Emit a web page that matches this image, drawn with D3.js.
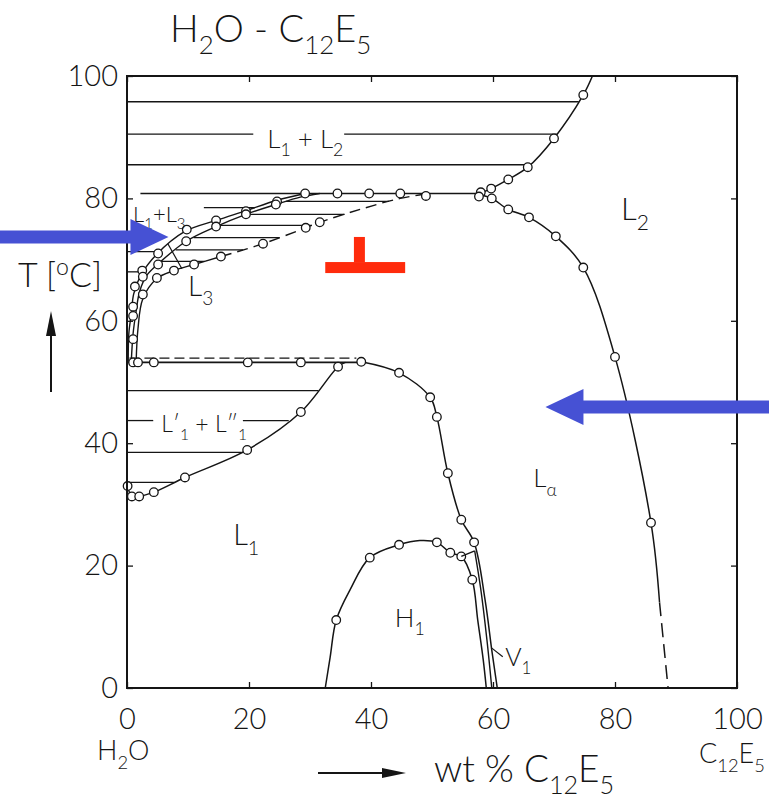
<!DOCTYPE html>
<html><head><meta charset="utf-8">
<script src="https://cdn.jsdelivr.net/npm/d3@7"></script>
<style>
body{margin:0;background:#fff}
svg{display:block}
text{font-family:Lato,"Open Sans","Liberation Sans",sans-serif;font-weight:300;fill:#151515}
</style>
</head><body>
<svg id="chart" width="769" height="798"></svg>
<script>
// ---- axes ----
const xTicks = [0, 20, 40, 60, 80, 100];
const yTicks = [0, 20, 40, 60, 80, 100];

// ---- phase boundaries, [wt% C12E5, T in °C] ----
// L2 boundary above the three-phase line
const l2Upper = [[57.8,80.8],[59.7,81.6],[62.5,83.1],[65.7,85.1],[70.0,89.8],[74.8,96.9],[76.3,100]];
const l2UpperPts = [[59.7,81.6],[62.5,83.1],[65.7,85.1],[70.0,89.8],[74.8,96.9]];
// L2 / La boundary
const l2Lower = [[57.8,80.6],[59.8,80.0],[62.5,78.2],[65.9,76.9],[70.3,73.8],[74.8,68.7],[80.0,54.1],[85.9,27.0],[87.3,14.0]];
const l2LowerDash = [[87.3,14.0],[88.0,7.0],[88.7,0]];
const l2LowerPts = [[59.8,80.0],[62.5,78.2],[65.9,76.9],[70.3,73.8],[74.8,68.7],[80.0,54.1],[85.9,27.0]];
const junctionPts = [[58.0,81.0],[57.7,80.3]];

// three-phase line and its points
const threePhaseT = 80.8;
const threePhaseX = [2.2, 57.8];
const threePhasePts = [34.5, 39.7, 44.8];

// L1+L2 tie lines
const tieL1L2 = [95.8, 90.5, 85.5];
const tieL1L2Break = {T: 90.5, x0: 20.7, x1: 35.6};

// L3 band: outer (U), inner (M) and lower (D) boundaries
const bandU = [[0.2,53.3],[0.3,57.9],[0.7,61.1],[1.1,64.4],[2.3,67.5],[4.8,70.8],[9.5,74.6],[14.6,76.4],[19.5,78.0],[24.6,79.7],[29.2,80.8]];
const bandUPts = [[1.0,57.0],[1.0,62.3],[1.3,65.6],[2.5,68.2],[5.1,71.0],[9.8,74.9],[14.6,76.4],[19.5,77.9],[24.6,79.5],[29.2,80.8]];
const bandM = [[0.7,53.3],[1.0,57.9],[1.5,61.6],[2.1,64.9],[3.3,67.5],[5.1,69.3],[9.7,73.0],[14.6,75.4],[19.5,77.4],[24.4,79.0],[28.4,80.2],[31.6,80.8]];
const bandMPts = [[1.0,60.8],[2.6,67.2],[5.1,69.2],[9.7,73.0],[14.6,75.4],[19.5,77.4],[24.4,79.0]];
const bandD = [[1.5,53.3],[1.8,58.7],[2.6,63.6],[4.9,66.9],[7.7,68.2],[11.0,69.2],[15.4,70.5]];
const bandDDash = [[15.4,70.5],[22.3,72.6],[29.3,75.2],[31.6,76.1],[38.2,78.2],[44.8,80.0],[49.7,80.8]];
const bandDPts = [[2.6,64.3],[4.9,67.0],[7.7,68.2],[11.0,69.2],[15.4,70.5],[22.3,72.6],[29.3,75.2],[31.6,76.1],[49.0,80.4]];
// tie lines between M and D, and from the water axis to U
const tieBand = [79.5, 77.4, 75.6, 73.6, 71.6, 69.7];
const tieL1L3 = [71.3, 68.0];
const tieL1L3Label = {T: 78.5, x0: 12.6};

// L1' + L1'' miscibility gap
const gapLower = [[0.1,33.0],[0.8,31.3],[2.0,31.3],[4.4,32.0],[9.5,34.4],[19.7,38.9],[28.5,45.1],[34.6,52.5],[35.8,53.2]];
const gapLowerPts = [[0.1,33.0],[0.8,31.3],[2.0,31.3],[4.4,32.0],[9.5,34.4],[19.7,38.9],[28.5,45.1],[34.6,52.5]];
const gapTopT = 53.2;
const gapTopX = [0, 38.4];
const gapTopPts = [1.0, 1.8, 4.4, 19.8, 28.5];
const gapDashT = 53.9;
const gapDashX = [0.4, 37.6];
const tieGap = [48.6, 43.7, 38.5, 33.6];
const tieGapBreak = {T: 43.7, x0: 4.3, x1: 19.0};

// La boundary toward L1
const laBound = [[38.4,53.3],[44.6,51.5],[49.7,47.5],[50.8,44.3],[52.6,35.1],[54.8,27.5],[56.9,23.8],[58.7,14.4],[59.8,6.2],[60.7,0]];
const laBoundPts = [[38.4,53.3],[44.6,51.5],[49.7,47.5],[50.8,44.3],[52.6,35.1],[54.8,27.5],[56.9,23.8]];

// H1 dome and V1 strip
const h1 = [[32.5,0],[33.3,5.0],[34.3,11.1],[36.6,16.1],[39.8,21.3],[44.6,23.4],[48.0,24.1],[50.8,23.8],[53.0,22.1],[54.8,21.5],[56.6,17.7],[57.5,11.1],[58.4,4.6],[58.9,0]];
const h1Pts = [[34.3,11.1],[39.8,21.3],[44.6,23.4],[50.8,23.8],[53.0,22.1],[54.8,21.5],[56.6,17.7]];
const v1Link = [[54.8,21.5],[57.0,22.4]];
const v1Line = [[57.0,22.4],[58.0,16.1],[59.0,7.9],[59.8,0]];

// ---- labels: text, x (wt%), T (°C), font size ----
const regionLabels = [
  {t:"L_1 + L_2", x:23.0, T:88.3, s:26},
  {t:"L_1+L_3", x:1.0, T:76.2, s:22},
  {t:"L_3", x:10.0, T:64.1, s:28},
  {t:"L_2", x:81.0, T:76.4, s:31},
  {t:"L_α", x:66.6, T:32.8, s:26},
  {t:"L_1", x:17.4, T:23.3, s:29},
  {t:"H_1", x:43.9, T:10.0, s:26},
  {t:"V_1", x:62.0, T:3.6, s:25},
  {t:"L′_1 + L″_1", x:5.6, T:41.8, s:23}
];
const pointers = [
  [[6.7,72.6],[9.0,68.5]],
  [[59.7,6.6],[61.6,5.1]]
];

// ---- highlight marks ----
const arrowsBlue = [
  {tail:-21, tip:6.8, T:73.7},
  {tail:106, tip:68.6, T:45.9}
];
const redBarH = {x0:32.5, x1:45.6, T0:67.8, T1:69.6};
const redBarV = {x0:37.2, x1:39.0, T0:69.6, T1:73.7};

// ---- drawing ----
const svg = d3.select("#chart");
const x = d3.scaleLinear([0,100],[127,737]);
const y = d3.scaleLinear([0,100],[688,76]);
const ink = "#151515";

const line = d3.line().x(d=>x(d[0])).y(d=>y(d[1])).curve(d3.curveCatmullRom.alpha(0.5));
const g = svg.append("g");

function xAt(curve, T){
  for(let i=0;i<curve.length-1;i++){
    const a=curve[i], b=curve[i+1];
    if((T-a[1])*(T-b[1])<=0 && a[1]!==b[1]){
      return a[0]+(b[0]-a[0])*(T-a[1])/(b[1]-a[1]);
    }
  }
  return curve[curve.length-1][0];
}
function path(data, w=1.5, dash=null){
  const p = g.append("path").attr("d", line(data)).attr("fill","none")
    .attr("stroke", ink).attr("stroke-width", w).attr("stroke-linejoin","round");
  if(dash) p.attr("stroke-dasharray", dash);
  return p;
}
function seg(x0,x1,T,w=1.4,dash=null){
  const p = g.append("line").attr("x1",x(x0)).attr("x2",x(x1)).attr("y1",y(T)).attr("y2",y(T))
    .attr("stroke",ink).attr("stroke-width",w);
  if(dash) p.attr("stroke-dasharray",dash);
}
function dots(pts){
  g.append("g").selectAll("circle").data(pts).join("circle")
    .attr("cx",d=>x(d[0])).attr("cy",d=>y(d[1])).attr("r",4.3)
    .attr("fill","#fff").attr("stroke",ink).attr("stroke-width",1.3);
}
// rich text: _x or _{xx} subscript, ^x superscript
function rich(sel, str, size){
  const parts=[];
  let i=0;
  while(i<str.length){
    const c=str[i];
    if(c==="_"||c==="^"){
      let t;
      if(str[i+1]==="{"){const j=str.indexOf("}",i);t=str.slice(i+2,j);i=j+1;}
      else {t=str[i+1];i+=2;}
      parts.push({t, mode:c});
    } else {
      let j=i; while(j<str.length && str[j]!=="_" && str[j]!=="^") j++;
      parts.push({t:str.slice(i,j), mode:""}); i=j;
    }
  }
  let shift=0;
  parts.forEach(p=>{
    const target = p.mode==="_" ? size*0.32 : p.mode==="^" ? -size*0.36 : 0;
    const ts = sel.append("tspan").text(p.t).attr("dy", target-shift);
    if(p.mode) ts.attr("font-size", size*0.68);
    shift=target;
  });
}
function text(px, py, str, size, anchor="start"){
  const t = svg.append("text").attr("x",px).attr("y",py).attr("font-size",size)
    .attr("text-anchor",anchor).style("white-space","pre");
  rich(t, str, size);
  return t;
}

// frame and ticks
svg.append("rect").attr("x",x(0)).attr("y",y(100)).attr("width",x(100)-x(0)).attr("height",y(0)-y(100))
  .attr("fill","none").attr("stroke",ink).attr("stroke-width",2);
svg.append("g").attr("transform",`translate(0,${y(0)})`)
  .call(d3.axisBottom(x).tickValues(xTicks).tickSize(-6).tickPadding(20).tickFormat(d3.format("d")));
svg.append("g").attr("transform",`translate(${x(0)},0)`)
  .call(d3.axisLeft(y).tickValues(yTicks).tickSize(-6).tickPadding(9).tickFormat(d3.format("d")));
svg.append("g").attr("transform",`translate(0,${y(100)})`)
  .call(d3.axisTop(x).tickValues(xTicks).tickSize(-6).tickFormat(""));
svg.append("g").attr("transform",`translate(${x(100)},0)`)
  .call(d3.axisRight(y).tickValues(yTicks).tickSize(-6).tickFormat(""));
svg.selectAll(".domain").remove();
svg.selectAll(".tick line").attr("stroke",ink).attr("stroke-width",1.3);
svg.selectAll(".tick text").attr("font-size",29).attr("fill",ink)
  .attr("font-family",'Lato,"Open Sans","Liberation Sans",sans-serif').attr("font-weight",300);

// L1+L2 tie lines
tieL1L2.forEach(T=>{
  const xe = xAt(l2Upper, T);
  if(T===tieL1L2Break.T){ seg(0,tieL1L2Break.x0,T); seg(tieL1L2Break.x1,xe,T); }
  else seg(0,xe,T);
});
seg(threePhaseX[0], threePhaseX[1], threePhaseT, 1.6);

// L2 curves
path(l2Upper); path(l2Lower); path(l2LowerDash,1.5,"14 7");
dots(l2UpperPts); dots(l2LowerPts); dots(junctionPts);
dots(threePhasePts.map(v=>[v,threePhaseT]));

// L3 band
const bandDAll = bandD.concat(bandDDash.slice(1));
tieBand.forEach(T=> seg(xAt(bandM,T), xAt(bandDAll,T), T, 1.3));
seg(tieL1L3Label.x0, xAt(bandU, tieL1L3Label.T), tieL1L3Label.T, 1.3);
tieL1L3.forEach(T=> seg(0, xAt(bandU,T), T, 1.3));
path(bandU,1.4); path(bandM,1.4); path(bandD,1.4); path(bandDDash,1.4,"11 6");
dots(bandUPts); dots(bandMPts); dots(bandDPts);

// L1' + L1'' gap
tieGap.forEach(T=>{
  const xe = xAt(gapLower, T);
  if(T===tieGapBreak.T){ seg(0,tieGapBreak.x0,T,1.3); seg(tieGapBreak.x1,xe,T,1.3); }
  else seg(0,xe,T,1.3);
});
seg(gapDashX[0], gapDashX[1], gapDashT, 1.3, "10 5");
seg(gapTopX[0], gapTopX[1], gapTopT, 1.6);
path(gapLower);
dots(gapLowerPts); dots(gapTopPts.map(v=>[v,gapTopT]));

// La boundary, H1, V1
path(laBound); dots(laBoundPts);
path(h1); dots(h1Pts);
path(v1Link,1.4); path(v1Line,1.4);

// pointer strokes
pointers.forEach(p=> g.append("line").attr("x1",x(p[0][0])).attr("y1",y(p[0][1]))
  .attr("x2",x(p[1][0])).attr("y2",y(p[1][1])).attr("stroke",ink).attr("stroke-width",1.2));

// region labels
regionLabels.forEach(l=> text(x(l.x), y(l.T), l.t, l.s));

// title and axis captions
text(170, 42, "H_2O - C_{12}E_5", 38);
text(18, 287, "T [^oC]", 34);
text(97, 760, "H_2O", 27);
text(699, 763, "C_{12}E_5", 27);
text(434, 782, "wt % C_{12}E_5", 37);

// caption arrows
svg.append("line").attr("x1",51).attr("y1",392).attr("x2",51).attr("y2",330).attr("stroke",ink).attr("stroke-width",2);
svg.append("path").attr("d","M51,311 L46,336 L56,336 Z").attr("fill",ink);
svg.append("line").attr("x1",318).attr("y1",773).attr("x2",390).attr("y2",773).attr("stroke",ink).attr("stroke-width",2);
svg.append("path").attr("d","M406,773 L382,768 L382,778 Z").attr("fill",ink);

// highlight arrows
const blue = "#4651d4";
arrowsBlue.forEach(a=>{
  const xt=x(a.tail), xp=x(a.tip), yc=y(a.T), dir = xp>xt?1:-1;
  const hb = xp - dir*38;
  svg.append("path").attr("fill",blue)
    .attr("d",`M${xt},${yc-6.5} L${hb},${yc-6.5} L${hb},${yc-18} L${xp},${yc} L${hb},${yc+18} L${hb},${yc+6.5} L${xt},${yc+6.5} Z`);
});
// red mark
const red = "#ff2b0c";
[redBarH, redBarV].forEach(b=> svg.append("rect").attr("fill",red)
  .attr("x",x(b.x0)).attr("width",x(b.x1)-x(b.x0))
  .attr("y",y(b.T1)).attr("height",y(b.T0)-y(b.T1)));
</script>
</body></html>
